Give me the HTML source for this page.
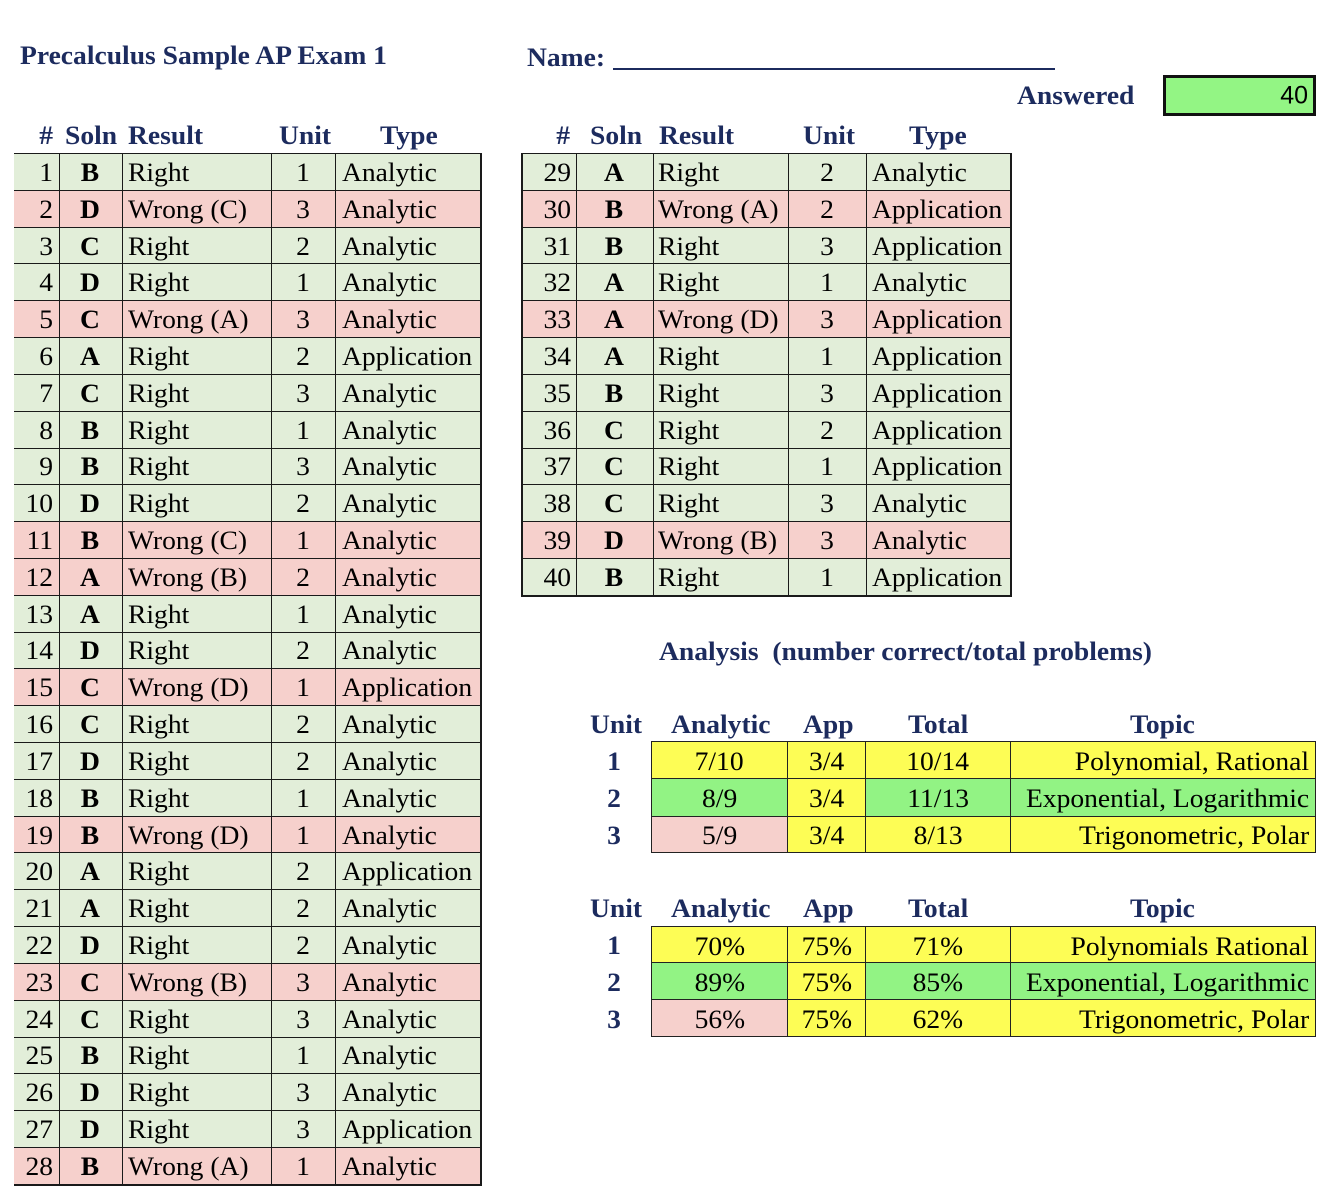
<!DOCTYPE html>
<html><head><meta charset="utf-8">
<style>
body{margin:0;width:1323px;height:1200px;background:#fff;position:relative;overflow:hidden;font-family:"Liberation Serif",serif;color:#000;}
.t{position:absolute;white-space:nowrap;line-height:1;font-size:26px;}
.hd{color:#1c2b5e;font-weight:bold;}
.c{transform:translate(-50%,-50%) scaleX(1.06);}
.l{transform:translateY(-50%) scaleX(1.06);transform-origin:0 50%;}
.r{transform:translate(-100%,-50%) scaleX(1.06);transform-origin:100% 50%;}
.tb{position:absolute;border-bottom:2px solid #1a1a1a;}
.row{height:36.82px;position:relative;border-top:1.5px solid #1a1a1a;box-sizing:border-box;}
.row span{position:absolute;top:calc(50% + 1px);white-space:nowrap;line-height:1;font-size:26px;}
.row b{font-weight:bold;}
.g{background:#e2eed9}.p{background:#f6d0cc}
.vl{position:absolute;top:0;bottom:-2px;width:1.5px;background:#1a1a1a;}
table.an{position:absolute;border-collapse:collapse;table-layout:fixed;}
table.an td{border:1.5px solid #222;padding:0;text-align:center;font-size:26px;line-height:1;white-space:nowrap;}
table.an td span{display:inline-block;transform:scaleX(1.06);position:relative;top:2px;}
table.an td.tp{text-align:right;padding-right:6px;}
table.an td.tp span{transform-origin:100% 50%;}
.y{background:#fdfd55}.gg{background:#92f384}.pk{background:#f6d0cc}
</style></head><body>

<div class="t hd l" style="left:20px;top:56px">Precalculus Sample AP Exam 1</div>
<div class="t hd l" style="left:527px;top:58px">Name:</div>
<div style="position:absolute;left:613px;top:68px;width:442px;height:2px;background:#1c2b5e"></div>
<div class="t hd l" style="left:1017px;top:96px">Answered</div>
<div style="position:absolute;left:1163px;top:75px;width:153px;height:41px;border:3px solid #111;box-sizing:border-box;background:#93f584"></div>
<div class="t" style="left:1308px;top:96px;transform:translate(-100%,-50%);font-family:'Liberation Sans',sans-serif;font-size:25px">40</div>

<!-- left headers -->
<div class="t hd r" style="left:53px;top:136px">#</div>
<div class="t hd l" style="left:65px;top:136px">Soln</div>
<div class="t hd l" style="left:128px;top:136px">Result</div>
<div class="t hd l" style="left:279px;top:136px">Unit</div>
<div class="t hd l" style="left:380px;top:136px">Type</div>

<!-- right headers -->
<div class="t hd r" style="left:570px;top:136px">#</div>
<div class="t hd l" style="left:590px;top:136px">Soln</div>
<div class="t hd l" style="left:659px;top:136px">Result</div>
<div class="t hd l" style="left:803px;top:136px">Unit</div>
<div class="t hd l" style="left:909px;top:136px">Type</div>

<!-- left table -->
<div class="tb" style="left:14px;top:153px;width:467px">
<div class="row g"><span class="r" style="left:39px">1</span><span class="c" style="left:76px"><b>B</b></span><span class="l" style="left:114px">Right</span><span class="c" style="left:289px">1</span><span class="l" style="left:328px">Analytic</span></div>
<div class="row p"><span class="r" style="left:39px">2</span><span class="c" style="left:76px"><b>D</b></span><span class="l" style="left:114px">Wrong (C)</span><span class="c" style="left:289px">3</span><span class="l" style="left:328px">Analytic</span></div>
<div class="row g"><span class="r" style="left:39px">3</span><span class="c" style="left:76px"><b>C</b></span><span class="l" style="left:114px">Right</span><span class="c" style="left:289px">2</span><span class="l" style="left:328px">Analytic</span></div>
<div class="row g"><span class="r" style="left:39px">4</span><span class="c" style="left:76px"><b>D</b></span><span class="l" style="left:114px">Right</span><span class="c" style="left:289px">1</span><span class="l" style="left:328px">Analytic</span></div>
<div class="row p"><span class="r" style="left:39px">5</span><span class="c" style="left:76px"><b>C</b></span><span class="l" style="left:114px">Wrong (A)</span><span class="c" style="left:289px">3</span><span class="l" style="left:328px">Analytic</span></div>
<div class="row g"><span class="r" style="left:39px">6</span><span class="c" style="left:76px"><b>A</b></span><span class="l" style="left:114px">Right</span><span class="c" style="left:289px">2</span><span class="l" style="left:328px">Application</span></div>
<div class="row g"><span class="r" style="left:39px">7</span><span class="c" style="left:76px"><b>C</b></span><span class="l" style="left:114px">Right</span><span class="c" style="left:289px">3</span><span class="l" style="left:328px">Analytic</span></div>
<div class="row g"><span class="r" style="left:39px">8</span><span class="c" style="left:76px"><b>B</b></span><span class="l" style="left:114px">Right</span><span class="c" style="left:289px">1</span><span class="l" style="left:328px">Analytic</span></div>
<div class="row g"><span class="r" style="left:39px">9</span><span class="c" style="left:76px"><b>B</b></span><span class="l" style="left:114px">Right</span><span class="c" style="left:289px">3</span><span class="l" style="left:328px">Analytic</span></div>
<div class="row g"><span class="r" style="left:39px">10</span><span class="c" style="left:76px"><b>D</b></span><span class="l" style="left:114px">Right</span><span class="c" style="left:289px">2</span><span class="l" style="left:328px">Analytic</span></div>
<div class="row p"><span class="r" style="left:39px">11</span><span class="c" style="left:76px"><b>B</b></span><span class="l" style="left:114px">Wrong (C)</span><span class="c" style="left:289px">1</span><span class="l" style="left:328px">Analytic</span></div>
<div class="row p"><span class="r" style="left:39px">12</span><span class="c" style="left:76px"><b>A</b></span><span class="l" style="left:114px">Wrong (B)</span><span class="c" style="left:289px">2</span><span class="l" style="left:328px">Analytic</span></div>
<div class="row g"><span class="r" style="left:39px">13</span><span class="c" style="left:76px"><b>A</b></span><span class="l" style="left:114px">Right</span><span class="c" style="left:289px">1</span><span class="l" style="left:328px">Analytic</span></div>
<div class="row g"><span class="r" style="left:39px">14</span><span class="c" style="left:76px"><b>D</b></span><span class="l" style="left:114px">Right</span><span class="c" style="left:289px">2</span><span class="l" style="left:328px">Analytic</span></div>
<div class="row p"><span class="r" style="left:39px">15</span><span class="c" style="left:76px"><b>C</b></span><span class="l" style="left:114px">Wrong (D)</span><span class="c" style="left:289px">1</span><span class="l" style="left:328px">Application</span></div>
<div class="row g"><span class="r" style="left:39px">16</span><span class="c" style="left:76px"><b>C</b></span><span class="l" style="left:114px">Right</span><span class="c" style="left:289px">2</span><span class="l" style="left:328px">Analytic</span></div>
<div class="row g"><span class="r" style="left:39px">17</span><span class="c" style="left:76px"><b>D</b></span><span class="l" style="left:114px">Right</span><span class="c" style="left:289px">2</span><span class="l" style="left:328px">Analytic</span></div>
<div class="row g"><span class="r" style="left:39px">18</span><span class="c" style="left:76px"><b>B</b></span><span class="l" style="left:114px">Right</span><span class="c" style="left:289px">1</span><span class="l" style="left:328px">Analytic</span></div>
<div class="row p"><span class="r" style="left:39px">19</span><span class="c" style="left:76px"><b>B</b></span><span class="l" style="left:114px">Wrong (D)</span><span class="c" style="left:289px">1</span><span class="l" style="left:328px">Analytic</span></div>
<div class="row g"><span class="r" style="left:39px">20</span><span class="c" style="left:76px"><b>A</b></span><span class="l" style="left:114px">Right</span><span class="c" style="left:289px">2</span><span class="l" style="left:328px">Application</span></div>
<div class="row g"><span class="r" style="left:39px">21</span><span class="c" style="left:76px"><b>A</b></span><span class="l" style="left:114px">Right</span><span class="c" style="left:289px">2</span><span class="l" style="left:328px">Analytic</span></div>
<div class="row g"><span class="r" style="left:39px">22</span><span class="c" style="left:76px"><b>D</b></span><span class="l" style="left:114px">Right</span><span class="c" style="left:289px">2</span><span class="l" style="left:328px">Analytic</span></div>
<div class="row p"><span class="r" style="left:39px">23</span><span class="c" style="left:76px"><b>C</b></span><span class="l" style="left:114px">Wrong (B)</span><span class="c" style="left:289px">3</span><span class="l" style="left:328px">Analytic</span></div>
<div class="row g"><span class="r" style="left:39px">24</span><span class="c" style="left:76px"><b>C</b></span><span class="l" style="left:114px">Right</span><span class="c" style="left:289px">3</span><span class="l" style="left:328px">Analytic</span></div>
<div class="row g"><span class="r" style="left:39px">25</span><span class="c" style="left:76px"><b>B</b></span><span class="l" style="left:114px">Right</span><span class="c" style="left:289px">1</span><span class="l" style="left:328px">Analytic</span></div>
<div class="row g"><span class="r" style="left:39px">26</span><span class="c" style="left:76px"><b>D</b></span><span class="l" style="left:114px">Right</span><span class="c" style="left:289px">3</span><span class="l" style="left:328px">Analytic</span></div>
<div class="row g"><span class="r" style="left:39px">27</span><span class="c" style="left:76px"><b>D</b></span><span class="l" style="left:114px">Right</span><span class="c" style="left:289px">3</span><span class="l" style="left:328px">Application</span></div>
<div class="row p"><span class="r" style="left:39px">28</span><span class="c" style="left:76px"><b>B</b></span><span class="l" style="left:114px">Wrong (A)</span><span class="c" style="left:289px">1</span><span class="l" style="left:328px">Analytic</span></div>
<div class="vl" style="left:44.5px"></div>
<div class="vl" style="left:107.5px"></div>
<div class="vl" style="left:256.5px"></div>
<div class="vl" style="left:320.5px"></div>
<div class="vl" style="left:466px;width:2px"></div>
</div>

<!-- right table -->
<div class="tb" style="left:521px;top:153px;width:490px">
<div class="row g"><span class="r" style="left:50px">29</span><span class="c" style="left:93px"><b>A</b></span><span class="l" style="left:137px">Right</span><span class="c" style="left:306px">2</span><span class="l" style="left:351px">Analytic</span></div>
<div class="row p"><span class="r" style="left:50px">30</span><span class="c" style="left:93px"><b>B</b></span><span class="l" style="left:137px">Wrong (A)</span><span class="c" style="left:306px">2</span><span class="l" style="left:351px">Application</span></div>
<div class="row g"><span class="r" style="left:50px">31</span><span class="c" style="left:93px"><b>B</b></span><span class="l" style="left:137px">Right</span><span class="c" style="left:306px">3</span><span class="l" style="left:351px">Application</span></div>
<div class="row g"><span class="r" style="left:50px">32</span><span class="c" style="left:93px"><b>A</b></span><span class="l" style="left:137px">Right</span><span class="c" style="left:306px">1</span><span class="l" style="left:351px">Analytic</span></div>
<div class="row p"><span class="r" style="left:50px">33</span><span class="c" style="left:93px"><b>A</b></span><span class="l" style="left:137px">Wrong (D)</span><span class="c" style="left:306px">3</span><span class="l" style="left:351px">Application</span></div>
<div class="row g"><span class="r" style="left:50px">34</span><span class="c" style="left:93px"><b>A</b></span><span class="l" style="left:137px">Right</span><span class="c" style="left:306px">1</span><span class="l" style="left:351px">Application</span></div>
<div class="row g"><span class="r" style="left:50px">35</span><span class="c" style="left:93px"><b>B</b></span><span class="l" style="left:137px">Right</span><span class="c" style="left:306px">3</span><span class="l" style="left:351px">Application</span></div>
<div class="row g"><span class="r" style="left:50px">36</span><span class="c" style="left:93px"><b>C</b></span><span class="l" style="left:137px">Right</span><span class="c" style="left:306px">2</span><span class="l" style="left:351px">Application</span></div>
<div class="row g"><span class="r" style="left:50px">37</span><span class="c" style="left:93px"><b>C</b></span><span class="l" style="left:137px">Right</span><span class="c" style="left:306px">1</span><span class="l" style="left:351px">Application</span></div>
<div class="row g"><span class="r" style="left:50px">38</span><span class="c" style="left:93px"><b>C</b></span><span class="l" style="left:137px">Right</span><span class="c" style="left:306px">3</span><span class="l" style="left:351px">Analytic</span></div>
<div class="row p"><span class="r" style="left:50px">39</span><span class="c" style="left:93px"><b>D</b></span><span class="l" style="left:137px">Wrong (B)</span><span class="c" style="left:306px">3</span><span class="l" style="left:351px">Analytic</span></div>
<div class="row g"><span class="r" style="left:50px">40</span><span class="c" style="left:93px"><b>B</b></span><span class="l" style="left:137px">Right</span><span class="c" style="left:306px">1</span><span class="l" style="left:351px">Application</span></div>
<div class="vl" style="left:0px"></div>
<div class="vl" style="left:54.5px"></div>
<div class="vl" style="left:131.5px"></div>
<div class="vl" style="left:266.5px"></div>
<div class="vl" style="left:344.5px"></div>
<div class="vl" style="left:489px;width:2px"></div>
</div>

<!-- analysis -->
<div class="t hd l" style="left:659px;top:652px">Analysis&nbsp;&nbsp;(number correct/total problems)</div>

<div class="t hd l" style="left:590px;top:725px">Unit</div>
<div class="t hd l" style="left:671px;top:725px">Analytic</div>
<div class="t hd l" style="left:803px;top:725px">App</div>
<div class="t hd l" style="left:908px;top:725px">Total</div>
<div class="t hd l" style="left:1130px;top:725px">Topic</div>
<div class="t hd c" style="left:614px;top:762px">1</div>
<div class="t hd c" style="left:614px;top:799px">2</div>
<div class="t hd c" style="left:614px;top:836px">3</div>

<table class="an" style="left:651px;top:741px">
<colgroup><col style="width:136px"><col style="width:78px"><col style="width:145px"><col style="width:305px"></colgroup>
<tr><td class="y" style="height:36px"><span>7/10</span></td><td class="y"><span>3/4</span></td><td class="y"><span>10/14</span></td><td class="y tp"><span>Polynomial, Rational</span></td></tr>
<tr><td class="gg" style="height:36.5px"><span>8/9</span></td><td class="y"><span>3/4</span></td><td class="gg"><span>11/13</span></td><td class="gg tp"><span>Exponential, Logarithmic</span></td></tr>
<tr><td class="pk" style="height:35.5px"><span>5/9</span></td><td class="y"><span>3/4</span></td><td class="y"><span>8/13</span></td><td class="y tp"><span>Trigonometric, Polar</span></td></tr>
</table>

<div class="t hd l" style="left:590px;top:909px">Unit</div>
<div class="t hd l" style="left:671px;top:909px">Analytic</div>
<div class="t hd l" style="left:803px;top:909px">App</div>
<div class="t hd l" style="left:908px;top:909px">Total</div>
<div class="t hd l" style="left:1130px;top:909px">Topic</div>
<div class="t hd c" style="left:614px;top:946px">1</div>
<div class="t hd c" style="left:614px;top:983px">2</div>
<div class="t hd c" style="left:614px;top:1020px">3</div>

<table class="an" style="left:651px;top:926px">
<colgroup><col style="width:136px"><col style="width:78px"><col style="width:145px"><col style="width:305px"></colgroup>
<tr><td class="y" style="height:35px"><span>70%</span></td><td class="y"><span>75%</span></td><td class="y"><span>71%</span></td><td class="y tp"><span>Polynomials Rational</span></td></tr>
<tr><td class="gg" style="height:36px"><span>89%</span></td><td class="y"><span>75%</span></td><td class="gg"><span>85%</span></td><td class="gg tp"><span>Exponential, Logarithmic</span></td></tr>
<tr><td class="pk" style="height:36px"><span>56%</span></td><td class="y"><span>75%</span></td><td class="y"><span>62%</span></td><td class="y tp"><span>Trigonometric, Polar</span></td></tr>
</table>

</body></html>
